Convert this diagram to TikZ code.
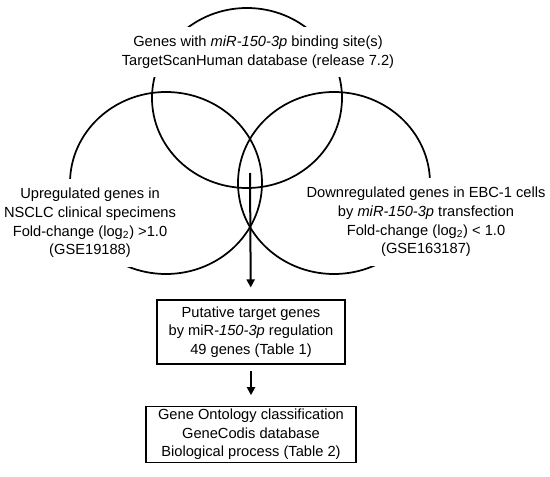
\documentclass[tikz,border=0pt]{standalone}
\usepackage{fontspec}
\setmainfont{Liberation Sans}
\usepackage{tikz}
\usetikzlibrary{positioning, arrows.meta}

\begin{document}
\begin{tikzpicture}[x=0.75pt, y=-0.75pt, node distance=31pt,
    venn/.style={line width=1.3pt},
    setlabel/.style={fill=white, align=center, inner xsep=1pt, inner ysep=7pt, font=\fontsize{11}{13.9}\selectfont},
    block/.style={draw, line width=0.8pt, align=center, inner sep=2pt, font=\fontsize{11}{13.9}\selectfont},
    arrow/.style={-{Triangle[width=6pt, length=6pt]}, line width=1.5pt}]
    \useasboundingbox (0,0) rectangle (550,477);
    % the three sets
    \draw[venn] (247,98) ellipse [x radius=71.25pt, y radius=67.5pt];
    \draw[venn] (166,183) ellipse [x radius=72pt, y radius=68.25pt];
    \draw[venn] (334,183) ellipse [x radius=72pt, y radius=68.25pt];
    \node[setlabel] (targetscan) at (258,52) {Genes with \textit{miR-150-3p} binding site(s)\\TargetScanHuman database (release 7.2)};
    \node[setlabel] (upreg) at (90,223) {Upregulated genes in\\NSCLC clinical specimens\\Fold-change (log\textsubscript{2}) >1.0\\(GSE19188)};
    \node[setlabel] (downreg) at (426,222) {Downregulated genes in EBC-1 cells\\by \textit{miR-150-3p} transfection\\Fold-change (log\textsubscript{2}) < 1.0\\(GSE163187)};
    \coordinate (overlap) at (250,173);
    % flow below
    \node[block, minimum width=141pt, minimum height=48pt] (putative) at (251,332) {Putative target genes\\by miR-\textit{150-3p} regulation\\49 genes (Table 1)};
    \node[block, minimum width=157.5pt, minimum height=41pt, below=31pt of putative] (ontology) {Gene Ontology classification\\GeneCodis database\\Biological process (Table 2)};
    \draw[arrow, shorten >=9pt] (overlap) -- (putative);
    \draw[arrow, shorten <=5pt, shorten >=8pt] (putative) -- (ontology);
\end{tikzpicture}
\end{document}
